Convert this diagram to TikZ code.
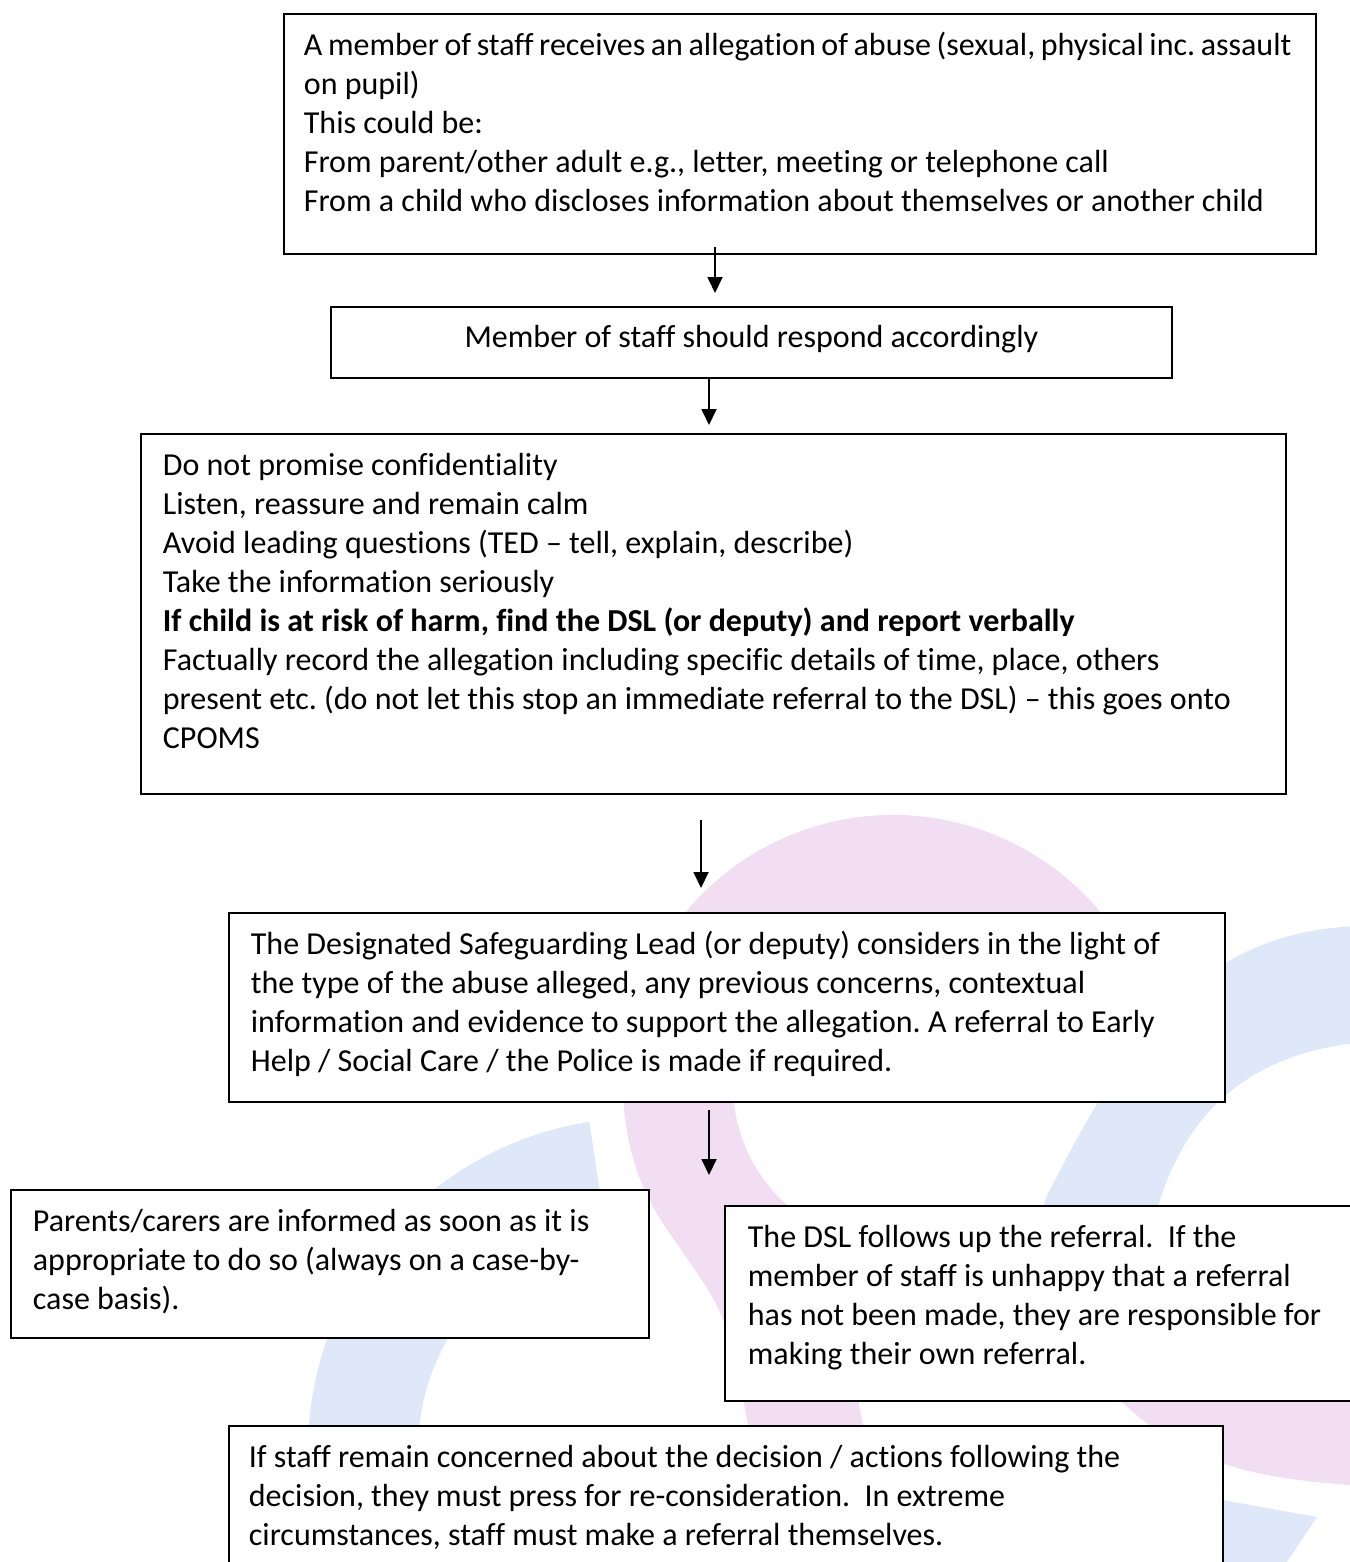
\documentclass[tikz,border=0pt]{standalone}
\usepackage{fontspec}
\setmainfont{Carlito}[Ligatures={TeX,NoCommon}]
\usetikzlibrary{arrows.meta}
\definecolor{wmpink}{RGB}{241,222,243}
\definecolor{wmblue}{RGB}{222,232,249}
\frenchspacing
\newcommand\flowtext[3]{\parbox[t][#1][t]{#2}{\raggedright\rule{0pt}{41.5bp}#3}}
\newcommand\flowtextc[3]{\parbox[t][#1][t]{#2}{\centering\rule{0pt}{41bp}#3}}
\begin{document}
\begin{tikzpicture}[x=1bp,y=-1bp,
  flowbox/.style={draw, line width=1.8bp, fill=white, anchor=north west, inner ysep=0pt,
    font=\fontsize{32bp}{39bp}\selectfont},
  flowarrow/.style={line width=1.8bp, -{Triangle[length=16bp,width=15bp]}}]
\useasboundingbox (0,0) rectangle (1350,1562);
\clip (0,0) rectangle (1350,1562);
\fill[white] (0,0) rectangle (1350,1562);
% watermark
\fill[wmpink] (1153.8,1015.1) arc[start angle=15,end angle=200,radius=270bp]
  .. controls (660,1235) and (715,1280) .. (730,1340)
  .. controls (742,1390) and (755,1450) .. (770,1580)
  -- (890,1580) .. controls (878,1500) and (868,1450) .. (860,1410)
  .. controls (845,1330) and (815,1260) .. (801.2,1216.1)
  arc[start angle=235,end angle=15,radius=160bp] -- cycle;
\fill[wmpink] (1100,1380) .. controls (1170,1455) and (1230,1478) .. (1365,1486)
  -- (1365,1370) -- cycle;
\fill[wmblue] (1365,926) .. controls (1200,928) and (1125,1040) .. (1045,1200)
  -- (1030,1260) -- (1145,1260) -- (1160,1200)
  .. controls (1195,1090) and (1275,1050) .. (1365,1042) -- cycle;
\fill[wmblue] (1200,1496) -- (1317,1517) -- (1278,1575) -- (1200,1575) -- cycle;
\fill[wmblue] (589.2,1121.9) arc[start angle=98.8,end angle=200,radius=332bp]
  -- (431.4,1525.9) arc[start angle=200,end angle=98.8,radius=222bp] -- cycle;
% boxes
\node[flowbox, inner xsep=20bp] (n1) at (283,13) {\flowtext{240bp}{992bp}{\mbox{\spaceskip=5.6bp\relax A member of staff receives an allegation of abuse (sexual, physical inc. assault}\\ on pupil)\\ This could be:\\ From parent/other adult e.g., letter, meeting or telephone call\\ From a child who discloses information about themselves or another child}};
\node[flowbox, inner xsep=20bp] (n2) at (330,306) {\flowtextc{71bp}{801bp}{Member of staff should respond accordingly}};
\node[flowbox, inner xsep=22bp] (n3) at (140,433) {\flowtext{360bp}{1101bp}{Do not promise confidentiality\\ Listen, reassure and remain calm\\ Avoid leading questions (TED -- tell, explain, describe)\\ Take the information seriously\\ \textbf{If child is at risk of harm, find the DSL (or deputy) and report verbally}\\ Factually record the allegation including specific details of time, place, others\\ \mbox{present etc. (do not let this stop an immediate referral to the DSL) -- this goes onto}\\ CPOMS}};
\node[flowbox, inner xsep=22bp] (n4) at (228,912) {\flowtext{189bp}{952bp}{The Designated Safeguarding Lead (or deputy) considers in the light of\\ the type of the abuse alleged, any previous concerns, contextual\\ information and evidence to support the allegation. A referral to Early\\ Help / Social Care / the Police is made if required.}};
\node[flowbox, inner xsep=22bp] (n5) at (10,1189) {\flowtext{148bp}{594bp}{Parents/carers are informed as soon as it is\\ appropriate to do so (always on a case-by-\\ case basis).}};
\node[flowbox, inner xsep=23bp] (n6) at (724,1205) {\flowtext{195bp}{634bp}{The DSL follows up the referral.\ \ If the\\ member of staff is unhappy that a referral\\ has not been made, they are responsible for\\ making their own referral.}};
\node[flowbox, inner xsep=20bp] (n7) at (228,1425) {\flowtext{150bp}{954bp}{If staff remain concerned about the decision / actions following the\\ decision, they must press for re-consideration.\ \ In extreme\\ circumstances, staff must make a referral themselves.}};
% arrows
\coordinate (a1s) at (715,247); \coordinate (a1e) at (715,293);
\coordinate (a2s) at (709,377); \coordinate (a2e) at (709,425);
\coordinate (a3s) at (701,820); \coordinate (a3e) at (701,888);
\coordinate (a4s) at (709,1110); \coordinate (a4e) at (709,1175);
\draw[flowarrow] (a1s) -- (a1e);
\draw[flowarrow] (a2s) -- (a2e);
\draw[flowarrow] (a3s) -- (a3e);
\draw[flowarrow] (a4s) -- (a4e);
\end{tikzpicture}
\end{document}
